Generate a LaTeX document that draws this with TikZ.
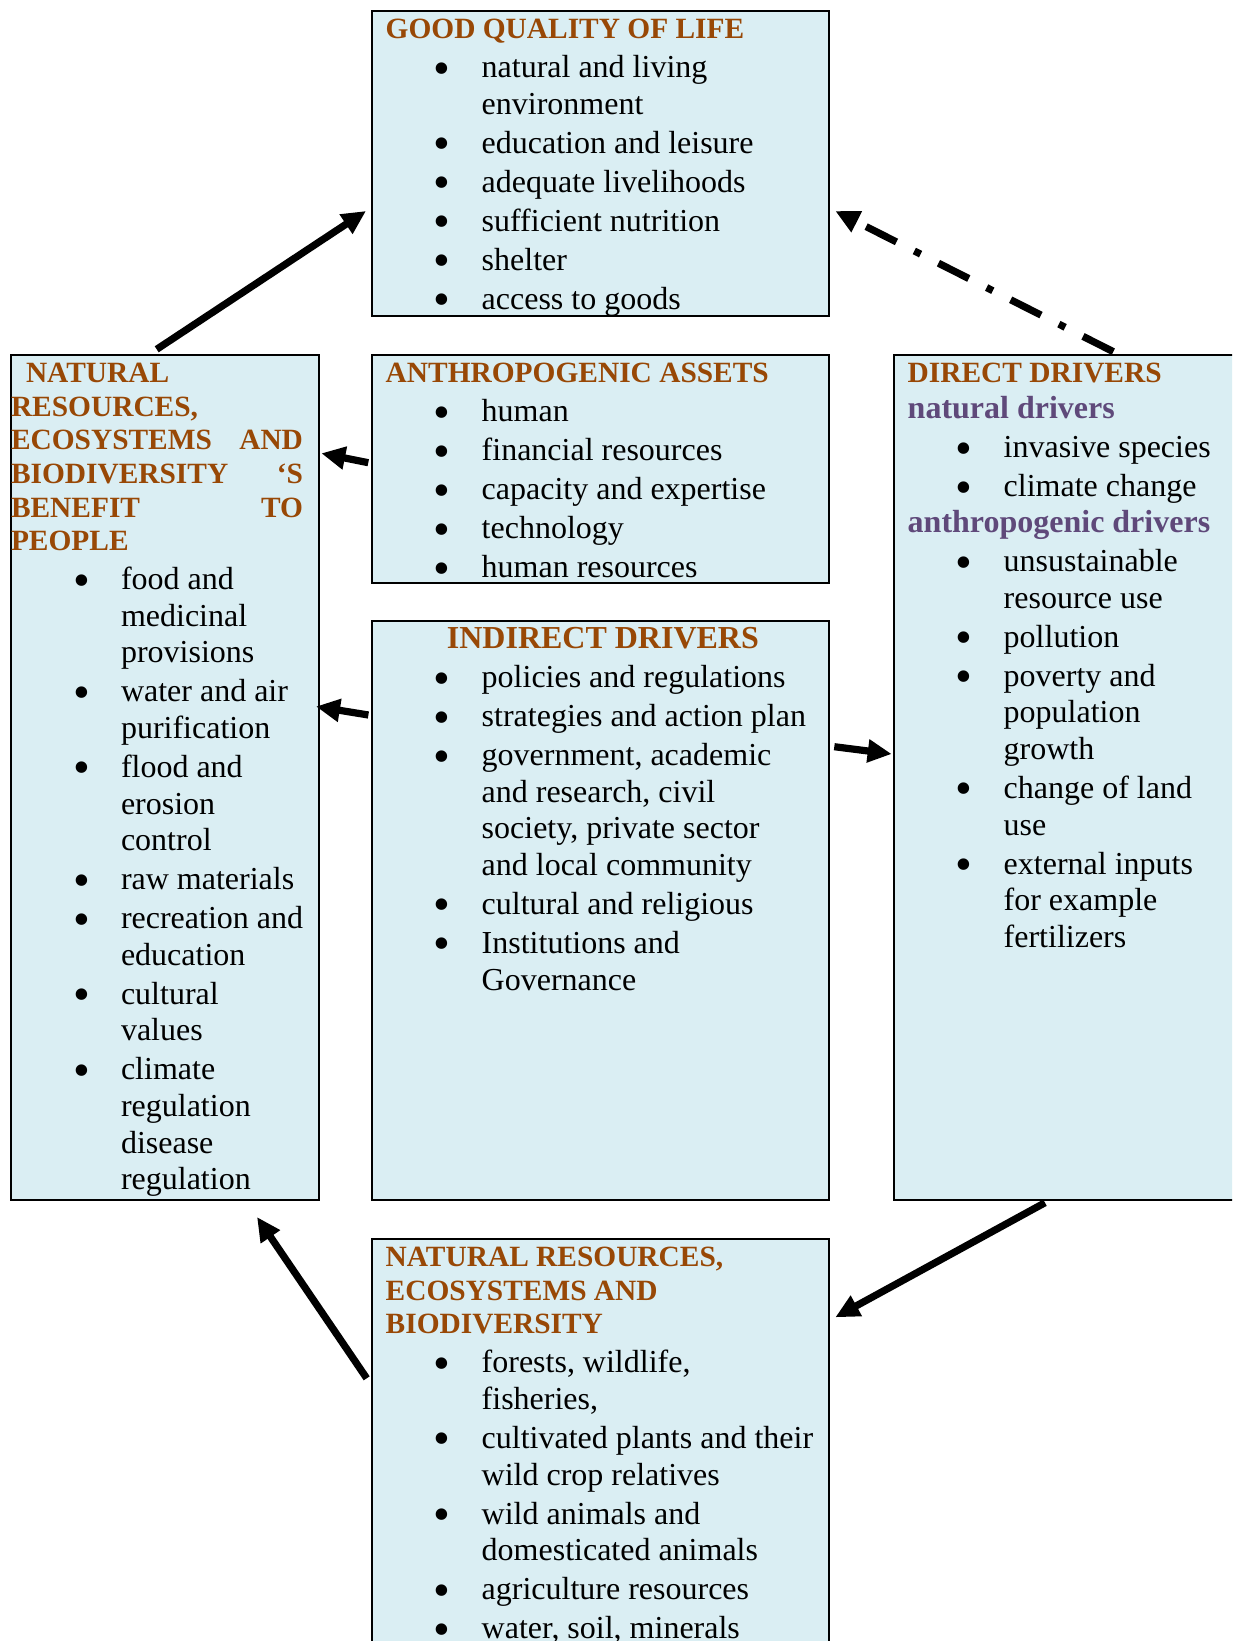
\documentclass[tikz,border=0pt]{standalone}
\usepackage{fontspec}
\setmainfont{Liberation Serif}
\usetikzlibrary{arrows.meta}

\definecolor{panelfill}{HTML}{DAEEF3}
\definecolor{hdbrown}{HTML}{984806}
\definecolor{subpurple}{HTML}{5F497A}

% box contents
\newcommand\panel[3]{\parbox[t][#2][t]{#1}{\rightskip=0pt plus 1fil\fontsize{16}{18.3}\selectfont\setlength\parskip{1.2pt}#3}}
\newcommand\hd[2][7pt]{{\bfseries\fontsize{14.7}{16.8}\selectfont\noindent\leftskip=#1\textcolor{hdbrown}{\rule{0pt}{13.85pt}#2}\par}}
\newcommand\subhd[1]{{\bfseries\fontsize{16}{16.8}\selectfont\noindent\leftskip=7pt\textcolor{subpurple}{#1}\par}}
\newcommand\itm[1]{\par\hangindent=55pt\hangafter=1\noindent\hspace*{31pt}\makebox[24pt][l]{\raisebox{-3.2pt}{\scalebox{1.5}{\textbullet}}}#1\par}

\begin{document}
\begin{tikzpicture}[x=0.5pt,y=-0.5pt,
  box/.style={draw,line width=1pt,fill=panelfill,inner sep=0pt,anchor=north west},
  flow/.style={line width=3.6pt,-{Triangle[length=12pt,width=11pt]}},
  link/.style={flow,dash pattern=on 17pt off 10pt on 3.5pt off 10pt}
]
\useasboundingbox (0,0) rectangle (1232,1641);
\clip (0,0) rectangle (1232,1641);

\node[box] (goal) at (370.7,10) {\panel{228.65pt}{152.5pt}{%
  \hd{GOOD QUALITY OF LIFE}
  \itm{natural and living\\ environment}
  \itm{education and leisure}
  \itm{adequate livelihoods}
  \itm{sufficient nutrition}
  \itm{shelter}
  \itm{access to goods}}};

\node[box] (benefit) at (10,354) {\panel{153.85pt}{422.5pt}{%
  {\bfseries\fontsize{14.7}{16.8}\selectfont\noindent\color{hdbrown}%
  \rule{0pt}{13.85pt}\hspace*{7.5pt}NATURAL\\
  RESOURCES,\\
  \makebox[146pt][s]{ECOSYSTEMS AND}\\
  \makebox[146pt][s]{BIODIVERSITY ‘S}\\
  \makebox[146pt][s]{BENEFIT TO}\\
  PEOPLE\par}
  \itm{food and\\ medicinal\\ provisions}
  \itm{water and air\\ purification}
  \itm{flood and\\ erosion\\ control}
  \itm{raw materials}
  \itm{recreation and\\ education}
  \itm{cultural\\ values}
  \itm{climate\\ regulation\\ disease\\ regulation}}};

\node[box] (assets) at (370.7,354) {\panel{228.65pt}{114pt}{%
  \hd{ANTHROPOGENIC ASSETS}
  \itm{human}
  \itm{financial resources}
  \itm{capacity and expertise}
  \itm{technology}
  \itm{human resources}}};

\node[box] (indirect) at (370.7,620) {\panel{228.65pt}{289.5pt}{%
  {\bfseries\noindent\leftskip=37.6pt\textcolor{hdbrown}{\rule{0pt}{13.85pt}INDIRECT DRIVERS}\par}
  \itm{policies and regulations}
  \itm{strategies and action plan}
  \itm{government, academic\\ and research, civil\\ society, private sector\\ and local community}
  \itm{cultural and religious}
  \itm{Institutions and\\ Governance}}};

\node[box] (direct) at (892.7,354) {\panel{180pt}{422.5pt}{%
  \hd{DIRECT DRIVERS}
  \subhd{natural drivers}
  \itm{invasive species}
  \itm{climate change}
  \subhd{anthropogenic drivers}
  \itm{unsustainable\\ resource use}
  \itm{pollution}
  \itm{poverty and\\ population\\ growth}
  \itm{change of land\\ use}
  \itm{external inputs\\ for example\\ fertilizers}}};

\node[box] (natres) at (370.7,1238) {\panel{228.65pt}{240pt}{%
  \hd{NATURAL RESOURCES,\\ ECOSYSTEMS AND\\ BIODIVERSITY}
  \itm{forests, wildlife,\\ fisheries,}
  \itm{cultivated plants and their\\ wild crop relatives}
  \itm{wild animals and\\ domesticated animals}
  \itm{agriculture resources}
  \itm{water, soil, minerals}}};

\draw[flow] ([xshift=73.35pt,yshift=2.35pt]benefit.north west) -- ([xshift=-2.35pt,yshift=-23.75pt]goal.west);
\draw[flow] ([xshift=-1.2pt,yshift=3.15pt]assets.west) -- ([xshift=0.8pt,yshift=-49.65pt]benefit.north east);
\draw[flow] ([xshift=-1.15pt,yshift=-47.5pt]indirect.north west) -- ([xshift=-1.85pt,yshift=-176.25pt]benefit.north east);
\draw[flow] ([xshift=2.15pt,yshift=-63.35pt]indirect.north east) -- ([xshift=-0.5pt,yshift=-200pt]direct.north west);
\draw[link] ([xshift=110.3pt,yshift=1.15pt]direct.north west) -- ([xshift=2.65pt,yshift=-23.75pt]goal.east);
\draw[flow] ([xshift=76.15pt,yshift=-0.85pt]direct.south west) -- ([xshift=2.65pt,yshift=-39.65pt]natres.north east);
\draw[flow] ([xshift=-2pt,yshift=-70.15pt]natres.north west) -- ([xshift=-31.35pt,yshift=-8pt]benefit.south east);
\end{tikzpicture}
\end{document}
